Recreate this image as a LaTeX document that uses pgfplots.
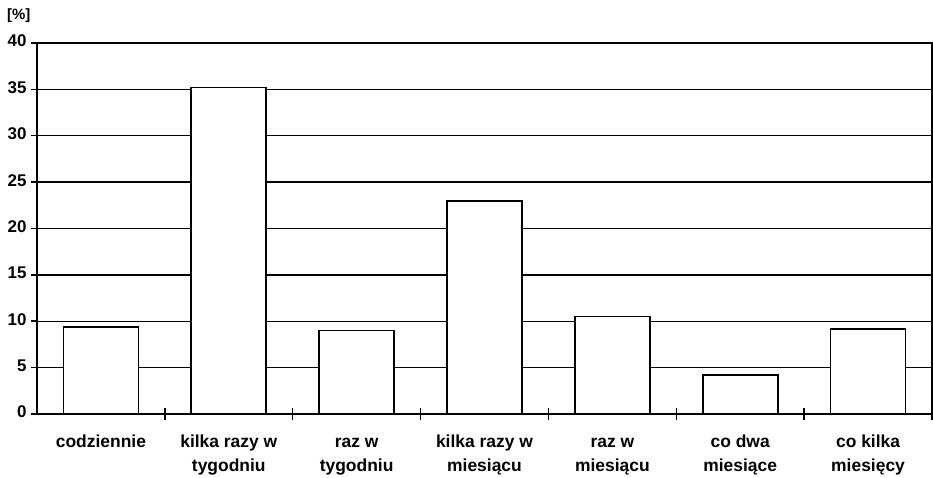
\documentclass[border=0pt]{standalone}
\usepackage{pgfplots}
\pgfplotsset{compat=1.18}
\usepackage{fontspec}
\setmainfont{Liberation Sans}
\begin{document}
\begin{tikzpicture}
\useasboundingbox (0bp,0bp) rectangle (933bp,478bp);
\begin{axis}[
  at={(37bp,64bp)}, anchor=south west,
  scale only axis, width=895bp, height=371bp,
  xmin=0.5, xmax=7.5, ymin=0, ymax=40,
  ytick={0,5,...,40},
  ymajorgrids, grid style={black, line width=1.4bp},
  axis line style={black, line width=1.7bp},
  tick style={black, line width=1.5bp},
  ytick align=outside, ytick pos=left, major tick length=6bp,
  xtick={1,...,7},
  xticklabels={codziennie, kilka razy w\\tygodniu, raz w\\tygodniu, kilka razy w\\miesiącu, raz w\\miesiącu, co dwa\\miesiące, co kilka\\miesięcy},
  major x tick style={draw=none},
  minor xtick={1.5,2.5,...,7.5},
  minor x tick style={black, line width=1.5bp},
  minor tick length=13bp, xtick align=center, xtick pos=bottom,
  typeset ticklabels with strut,
  xticklabel style={align=center, font=\fontsize{17.5}{24}\selectfont\bfseries, yshift=-10bp},
  yticklabel style={font=\fontsize{17}{20}\selectfont\bfseries, xshift=-1bp},
  /pgf/number format/assume math mode=true,
  clip=false,
]
\addplot[ybar, fill=white, draw=black, line width=1.7bp, bar width=0.586]
  coordinates {(1,9.4) (2,35.2) (3,9.0) (4,23.0) (5,10.5) (6,4.2) (7,9.2)};
\end{axis}
\node[anchor=west, font=\fontsize{15}{17}\selectfont\bfseries, inner sep=0pt] at (7bp,462bp) {[\%]};
\end{tikzpicture}
\end{document}
